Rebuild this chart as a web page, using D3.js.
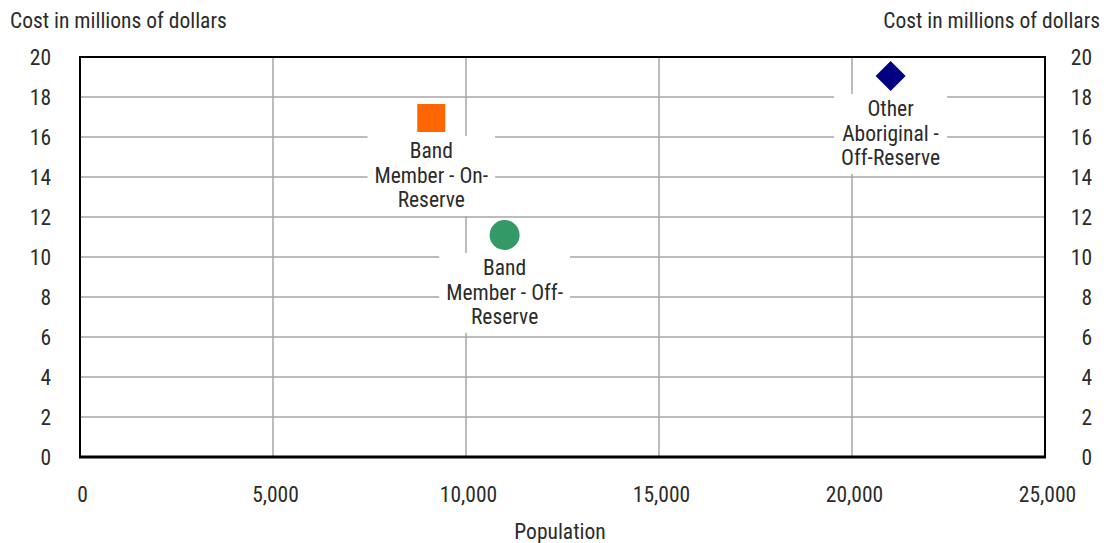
<!DOCTYPE html>
<html><head><meta charset="utf-8">
<script src="https://cdn.jsdelivr.net/npm/d3@7"></script>
<style>
body{margin:0;background:#fff;}
text{font-family:"Liberation Sans Narrow","Roboto Condensed","Arial Narrow",sans-serif;fill:#2b2b2b;}
</style></head><body>
<svg id="c" width="1119" height="543"></svg>
<script>
const categories = ["Band Member - On-Reserve", "Band Member - Off-Reserve", "Other Aboriginal - Off-Reserve"];
const labelLines = [["Band","Member - On-","Reserve"],["Band","Member - Off-","Reserve"],["Other","Aboriginal -","Off-Reserve"]];
const population = [9100, 11000, 21000];
const cost = [16.95, 11.1, 19.05];
const shapes = ["square", "circle", "diamond"];
const colors = ["#ff6600", "#339966", "#000080"];
const xTicks = [0, 5000, 10000, 15000, 20000, 25000];
const yTicks = [0, 2, 4, 6, 8, 10, 12, 14, 16, 18, 20];

const svg = d3.select("#c");
const L = 80, R = 1045, T = 57, B = 457;
const x = d3.scaleLinear().domain([0, 25000]).range([L, R]);
const y = d3.scaleLinear().domain([0, 20]).range([B, T]);
const fs = 21.5;

// gridlines
const g = svg.append("g");
g.selectAll("line.h").data(yTicks.filter(v => v > 0 && v < 20)).join("line")
  .attr("x1", L).attr("x2", R).attr("y1", d => y(d)).attr("y2", d => y(d))
  .attr("stroke", "#a6a6a6").attr("stroke-width", 1.5);
g.selectAll("line.v").data(xTicks.filter(v => v > 0 && v < 25000)).join("line")
  .attr("y1", T).attr("y2", B).attr("x1", d => x(d)).attr("x2", d => x(d))
  .attr("stroke", "#a6a6a6").attr("stroke-width", 1.5);

// axes (labels only)
const fmt = d3.format(",");
const ax = svg.append("g").attr("transform", `translate(2,${B + 37})`)
  .call(d3.axisBottom(x).tickValues(xTicks).tickFormat(d => fmt(d)).tickSize(0).tickPadding(0));
const ayl = svg.append("g").attr("transform", `translate(51,0)`)
  .call(d3.axisLeft(y).tickValues(yTicks).tickSize(0).tickPadding(0));
const ayr = svg.append("g").attr("transform", `translate(1092,0)`)
  .call(d3.axisLeft(y).tickValues(yTicks).tickSize(0).tickPadding(0));
[ax, ayl, ayr].forEach(a => {
  a.select(".domain").remove();
  a.selectAll("text").attr("font-size", fs).attr("font-family", null).style("fill", "#2b2b2b");
});
ayl.selectAll("text").attr("dy", "0.35em");
ayr.selectAll("text").attr("dy", "0.35em");
ax.selectAll("text").attr("dy", "0.35em");

// frame
svg.append("path").attr("d", `M${L},${B}V${T}H${R}V${B}`).attr("fill", "none").attr("stroke", "#000").attr("stroke-width", 2);
svg.append("line").attr("x1", L - 1).attr("x2", R + 1).attr("y1", B).attr("y2", B).attr("stroke", "#000").attr("stroke-width", 3);

// titles
svg.append("text").attr("x", 10).attr("y", 28).attr("font-size", fs).text("Cost in millions of dollars");
svg.append("text").attr("x", 1100).attr("y", 28).attr("font-size", fs).attr("text-anchor", "end").text("Cost in millions of dollars");
svg.append("text").attr("x", 560).attr("y", 539).attr("font-size", fs).attr("text-anchor", "middle").text("Population");

// labels with white boxes
const data = categories.map((c, i) => ({c, lines: labelLines[i], px: population[i], py: cost[i], s: shapes[i], col: colors[i]}));
data.forEach(d => {
  const cx = x(d.px), cy = y(d.py);
  const lg = svg.append("g");
  const rect = lg.append("rect").attr("fill", "#fff");
  const t = lg.append("text").attr("font-size", fs).attr("text-anchor", "middle");
  d.lines.forEach((ln, k) => t.append("tspan").attr("x", cx).attr("y", cy + 40 + k * 24.5).text(ln));
  const bb = t.node().getBBox();
  const w = bb.width + 14;
  rect.attr("x", cx - w / 2).attr("y", cy + 18).attr("width", w).attr("height", 80);
});

// markers
data.forEach(d => {
  const cx = x(d.px), cy = y(d.py);
  if (d.s === "square") {
    svg.append("rect").attr("x", cx - 14).attr("y", cy - 14).attr("width", 28).attr("height", 28).attr("fill", d.col);
  } else if (d.s === "circle") {
    svg.append("circle").attr("cx", cx).attr("cy", cy).attr("r", 15).attr("fill", d.col);
  } else {
    svg.append("path").attr("d", `M${cx},${cy - 15}L${cx + 15},${cy}L${cx},${cy + 15}L${cx - 15},${cy}Z`).attr("fill", d.col);
  }
});
</script></body></html>
